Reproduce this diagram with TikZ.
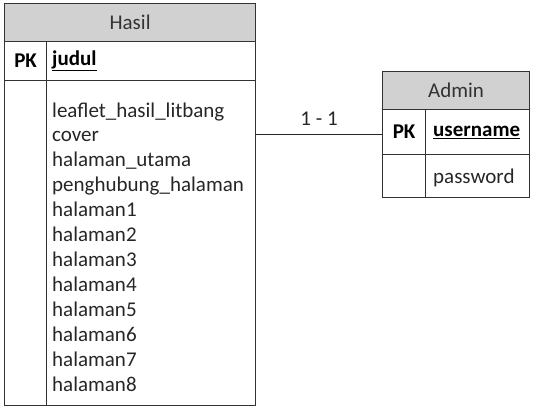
\documentclass[tikz,border=0pt]{standalone}
\usepackage{fontspec}
\setmainfont{Carlito}
\begin{document}
\begin{tikzpicture}[x=1pt,y=-1pt,
  cell/.style={draw=black!80, line width=1.2pt, inner sep=0pt, anchor=north west},
  headcell/.style={cell, fill=black!18, font=\fontsize{21}{25}\selectfont, text=black!80},
  keytext/.style={font=\bfseries\fontsize{21}{25}\selectfont},
  attr/.style={anchor=base west, inner sep=0pt, font=\fontsize{21}{25}\selectfont, text=black!85},
  conn/.style={draw=black!85, line width=0.9pt}]
  \useasboundingbox (0,0) rectangle (539,408);

  % Hasil table
  \node[headcell, minimum width=251pt, minimum height=38pt] (hasilhead) at (4,3) {Hasil};
  \node[cell, minimum width=42pt, minimum height=39pt] (hasilpk) at (4,41) {};
  \node[keytext] (hasilpklabel) at (hasilpk.center) {PK};
  \node[cell, minimum width=209pt, minimum height=39pt] (hasilkey) at (46,41) {};
  \node[keytext, anchor=west, inner sep=0pt] (hasilkeylabel) at ([xshift=6pt]hasilkey.west) {\underline{judul}};
  \node[cell, minimum width=42pt, minimum height=325pt] (hasilside) at (4,80) {};
  \node[cell, minimum width=209pt, minimum height=325pt] (hasilbody) at (46,80) {};
  \foreach \t [count=\i] in {leaflet\_hasil\_litbang, cover, halaman\_utama,
      penghubung\_halaman, halaman1, halaman2, halaman3, halaman4,
      halaman5, halaman6, halaman7, halaman8}
    \node[attr] (attr\i) at (52, {117 + (\i-1)*24.95}) {\t};

  % Admin table
  \node[headcell, minimum width=147pt, minimum height=38pt] (adminhead) at (382,71) {Admin};
  \node[cell, minimum width=43pt, minimum height=45pt] (adminpk) at (382,109) {};
  \node[keytext] (adminpklabel) at (adminpk.center) {PK};
  \node[cell, minimum width=104pt, minimum height=45pt] (adminkey) at (425,109) {};
  \node[keytext, anchor=west, inner sep=0pt] (adminkeylabel) at ([xshift=8pt]adminkey.west) {\underline{username}};
  \node[cell, minimum width=43pt, minimum height=43pt] (adminside) at (382,154) {};
  \node[cell, minimum width=104pt, minimum height=43pt] (adminpw) at (425,154) {};
  \node[attr, anchor=west] (adminpwlabel) at ([xshift=8pt,yshift=-2pt]adminpw.west) {password};

  % Relationship
  \draw[conn] ([yshift=-2.5pt]adminpk.west -| hasilbody.east)
    -- node[above=9pt, inner sep=0pt, font=\fontsize{21}{25}\selectfont, text=black!85] (rel) {1 - 1}
    ([yshift=-2.5pt]adminpk.west);
\end{tikzpicture}
\end{document}
